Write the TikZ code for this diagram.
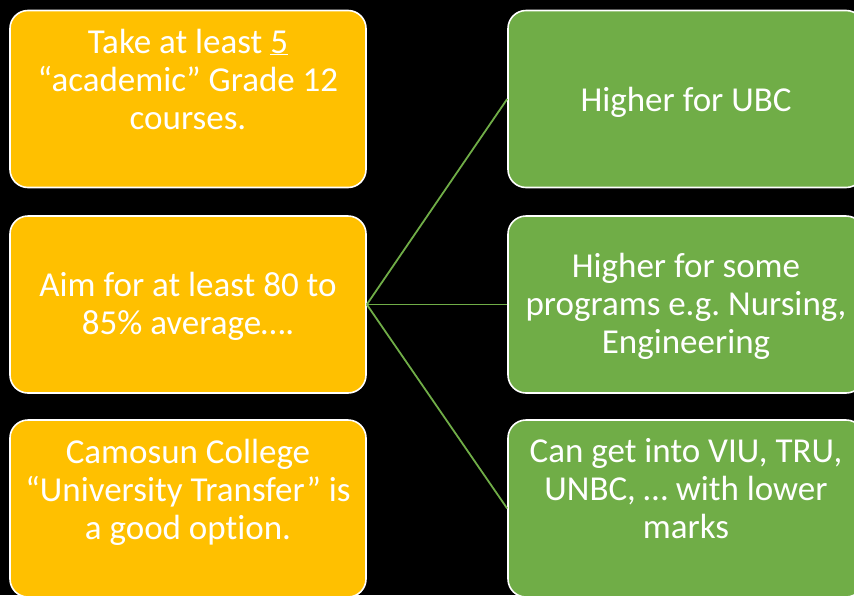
\documentclass[tikz,border=0pt]{standalone}
\usepackage{fontspec}
\setmainfont[Ligatures={NoCommon}]{Carlito}
\frenchspacing
\definecolor{ppYellow}{HTML}{FFC000}
\definecolor{ppGreen}{HTML}{70AD47}
\begin{document}
\begin{tikzpicture}[x=1pt,y=-1pt,
  box/.style={draw=white, line width=1.6pt, rounded corners=18pt, minimum width=356pt, minimum height=177pt, inner sep=0pt},
  ybox/.style={box, fill=ppYellow},
  gbox/.style={box, fill=ppGreen},
  txt/.style={text=white, align=center, inner sep=0pt, font=\fontsize{35}{38}\selectfont},
  link/.style={draw=ppGreen, line width=1.8pt}]
\useasboundingbox (0,0) rectangle (854,595);
\fill[black] (0,0) rectangle (854,595);
\begin{scope}
\clip (0,0) rectangle (854,595);
\node[ybox] (y1) at (188,99) {};
\node[ybox] (y2) at (188,304.5) {};
\node[ybox] (y3) at (188,508.5) {};
\node[gbox] (g1) at (686,99) {};
\node[gbox] (g2) at (686,304.5) {};
\node[gbox] (g3) at (686,508.5) {};
\node[txt] (t1) at (188,79) {Take at least \underline{5}\\“academic” Grade 12\\courses.};
\node[txt] (t2) at (188,306.5) {Aim for at least 80 to\\85\% average….};
\node[txt] (t3) at (188,492) {Camosun College\\“University Transfer” is\\a good option.};
\node[txt] (t4) at (686,102) {Higher for UBC};
\node[txt] (t5) at (686,306) {Higher for some\\programs e.g. Nursing,\\Engineering};
\node[txt] (t6) at (686,488.5) {Can get into VIU, TRU,\\UNBC, … with lower\\marks};
\draw[link] (y2.east) -- (g1.west);
\draw[link] (y2.east) -- (g2.west);
\draw[link] (y2.east) -- (g3.west);
\end{scope}
\end{tikzpicture}
\end{document}
